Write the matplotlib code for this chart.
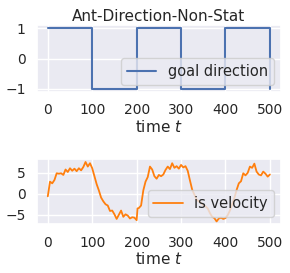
import matplotlib
matplotlib.use("Agg")
import matplotlib.pyplot as plt
import seaborn as sns
import numpy as np

sns.set_theme(style="darkgrid")

title = "Ant-Direction-Non-Stat"
goal_t = [0, 100, 200, 300, 400, 500]
goal_dir = [1, -1, 1, -1, 1, -1]

vel_t = [0, 5, 10, 15, 20, 25, 30, 35, 40, 45, 50, 55, 60, 65, 70, 75, 80, 85, 90, 95,
         100, 105, 110, 115, 120, 125, 130, 135, 140, 145, 150, 155, 160, 165, 170, 175,
         180, 185, 190, 195, 200, 202, 205, 210, 215, 220, 225, 230, 235, 240, 245, 250,
         255, 260, 265, 270, 275, 280, 285, 290, 295, 300, 305, 310, 315, 320, 325, 330,
         335, 340, 345, 350, 355, 360, 365, 370, 375, 380, 385, 390, 395, 400, 405, 410,
         415, 420, 425, 430, 435, 440, 445, 450, 455, 460, 465, 470, 475, 480, 485, 490,
         495, 500]
vel = [-0.6, 2.9, 2.5, 3.3, 4.9, 4.8, 4.9, 4.5, 5.8, 5.2, 6.1, 5.5, 6.0, 5.4, 6.1, 5.6,
       6.4, 7.6, 6.5, 7.3, 6.1, 4.2, 2.3, 0.8, -0.9, -1.8, -2.5, -2.8, -4.1, -4.0, -4.9,
       -6.0, -5.0, -4.0, -5.5, -4.9, -5.2, -5.9, -5.6, -5.7, -6.3, -3.5, -3.4, -2.8, 0.8,
       2.9, 4.0, 6.5, 5.8, 4.2, 3.6, 4.5, 4.2, 4.6, 5.7, 6.5, 5.9, 7.3, 6.2, 6.6, 6.0,
       6.9, 6.3, 6.6, 5.5, 3.2, 1.0, -0.2, -1.4, -1.8, -2.2, -2.7, -3.0, -3.5, -4.6,
       -5.5, -5.8, -6.6, -5.9, -5.7, -6.0, -5.8, -5.1, -4.0, -2.5, -1.0, 0.9, 2.5, 3.0,
       4.9, 4.4, 5.0, 6.5, 6.2, 7.2, 5.3, 4.6, 4.4, 5.3, 4.8, 4.1, 4.6]

fig = plt.figure(figsize=(2.9, 2.73), dpi=100)
ax1 = fig.add_axes([0.1265, 0.663, 0.8425, 0.245])
ax2 = fig.add_axes([0.1265, 0.178, 0.8425, 0.2396])

ax1.plot(goal_t, goal_dir, drawstyle="steps-post", color="#4c72b0", lw=1.5, label="goal direction")
ax1.set_title(title, fontsize=11, pad=3)
ax1.set_xlabel("time $t$", fontsize=11, labelpad=1)
ax1.set_xticks([0, 100, 200, 300, 400, 500])
ax1.set_yticks([-1, 0, 1])
ax1.tick_params(labelsize=10, pad=2)
ax1.legend(loc="lower right", fontsize=10.5)

ax2.plot(vel_t, vel, color="#ff7f0e", lw=1.3, label="is velocity")
ax2.set_xlabel("time $t$", fontsize=11, labelpad=1)
ax2.set_xticks([0, 100, 200, 300, 400, 500])
ax2.set_yticks([-5, 0, 5])
ax2.tick_params(labelsize=10, pad=2)
ax2.legend(loc="lower right", fontsize=10.5)

fig.savefig("out.png", dpi=100)
